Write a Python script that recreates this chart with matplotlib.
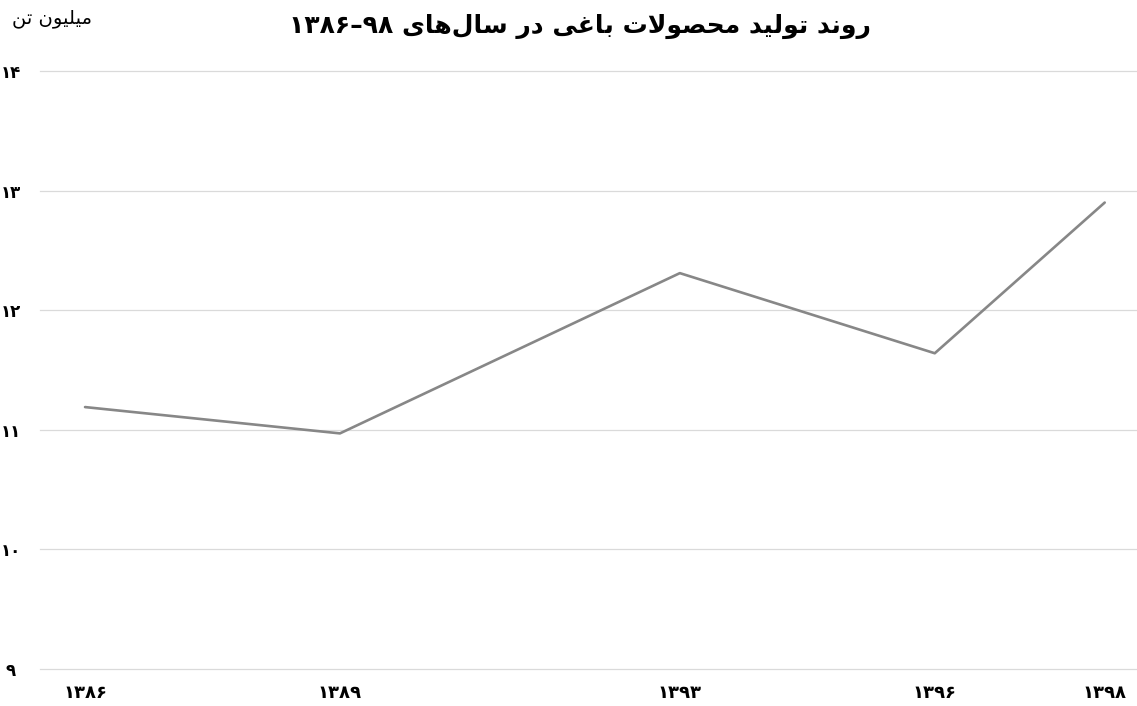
import matplotlib
matplotlib.use("Agg")
import matplotlib.pyplot as plt

YEARS = [1386, 1389, 1393, 1396, 1398]
PRODUCTION = [11.19, 10.97, 12.31, 11.64, 12.90]
Y_TICKS = [9, 10, 11, 12, 13, 14]

TITLE = "روند تولید محصولات باغی در سال‌های ۹۸–۱۳۸۶"
Y_UNIT = "میلیون تن"

FA_DIGITS = "۰۱۲۳۴۵۶۷۸۹"

# isolated, final, initial, medial (presentation forms)
FORMS = {
    "ا": ("\uFE8D", "\uFE8E", None, None),
    "ب": ("\uFE8F", "\uFE90", "\uFE91", "\uFE92"),
    "ت": ("\uFE95", "\uFE96", "\uFE97", "\uFE98"),
    "ح": ("\uFEA1", "\uFEA2", "\uFEA3", "\uFEA4"),
    "د": ("\uFEA9", "\uFEAA", None, None),
    "ر": ("\uFEAD", "\uFEAE", None, None),
    "س": ("\uFEB1", "\uFEB2", "\uFEB3", "\uFEB4"),
    "ص": ("\uFEB9", "\uFEBA", "\uFEBB", "\uFEBC"),
    "غ": ("\uFECD", "\uFECE", "\uFECF", "\uFED0"),
    "ل": ("\uFEDD", "\uFEDE", "\uFEDF", "\uFEE0"),
    "م": ("\uFEE1", "\uFEE2", "\uFEE3", "\uFEE4"),
    "ن": ("\uFEE5", "\uFEE6", "\uFEE7", "\uFEE8"),
    "ه": ("\uFEE9", "\uFEEA", "\uFEEB", "\uFEEC"),
    "و": ("\uFEED", "\uFEEE", None, None),
    "ی": ("\uFEEF", "\uFEF0", "\uFEF3", "\uFEF4"),
}


def joins_left(c):
    return c in FORMS and FORMS[c][2] is not None


def shape_word(word):
    # pick joined forms, then put glyphs in visual (right-to-left) order
    chars = list(word)
    n = len(chars)
    out = []
    i = 0
    while i < n:
        c = chars[i]
        if c not in FORMS:
            if c != "\u200c":
                out.append(c)
            i += 1
            continue
        link_prev = i > 0 and joins_left(chars[i - 1])
        if c == "ل" and i + 1 < n and chars[i + 1] == "ا":
            out.append("\uFEFC" if link_prev else "\uFEFB")
            i += 2
            continue
        link_next = joins_left(c) and i + 1 < n and chars[i + 1] in FORMS
        iso, fin, ini, med = FORMS[c]
        if link_prev and link_next:
            g = med
        elif link_prev:
            g = fin
        elif link_next:
            g = ini
        else:
            g = iso
        out.append(g)
        i += 1
    return "".join(reversed(out))


def visual(text):
    out = []
    for w in reversed(text.split(" ")):
        if any(c in FORMS for c in w):
            out.append(shape_word(w))
        else:
            out.append("–".join(reversed(w.split("–"))))
    return " ".join(out)


def fa_num(v):
    return "".join(FA_DIGITS[int(d)] for d in str(v))


plt.rcParams["font.family"] = ["DejaVu Sans"]

fig = plt.figure(figsize=(11.37, 7.06), dpi=100)
ax = fig.add_axes([40 / 1137, 37 / 706, 1 - 40 / 1137, (669 - 71) / 706])

ax.plot(YEARS, PRODUCTION, color="#878787", linewidth=1.9, solid_capstyle="round")

ax.set_ylim(9, 14)
ax.set_xlim(1385.47, 1398.38)
ax.set_yticks(Y_TICKS)
ax.set_yticklabels([fa_num(v) for v in Y_TICKS])
ax.set_xticks(YEARS)
ax.set_xticklabels([fa_num(v) for v in YEARS])
ax.grid(axis="y", color="#dadada", linewidth=0.9)
ax.grid(axis="x", visible=False)
ax.set_axisbelow(True)
for line in ax.get_ygridlines():
    line.set_clip_on(False)
for s in ax.spines.values():
    s.set_visible(False)
ax.tick_params(axis="y", length=0, pad=21, labelsize=12)
ax.tick_params(axis="x", length=0, pad=11, labelsize=13)
for lab in ax.get_yticklabels():
    lab.set_horizontalalignment("center")
    lab.set_fontweight("bold")
for lab in ax.get_xticklabels():
    lab.set_fontweight("bold")

fig.text(580 / 1137, 1 - 26 / 706, visual(TITLE), ha="center", va="center",
         fontsize=18, fontweight="bold")
fig.text(52 / 1137, 1 - 19 / 706, visual(Y_UNIT), ha="center", va="center",
         fontsize=14)

fig.savefig("out.png", dpi=100)
